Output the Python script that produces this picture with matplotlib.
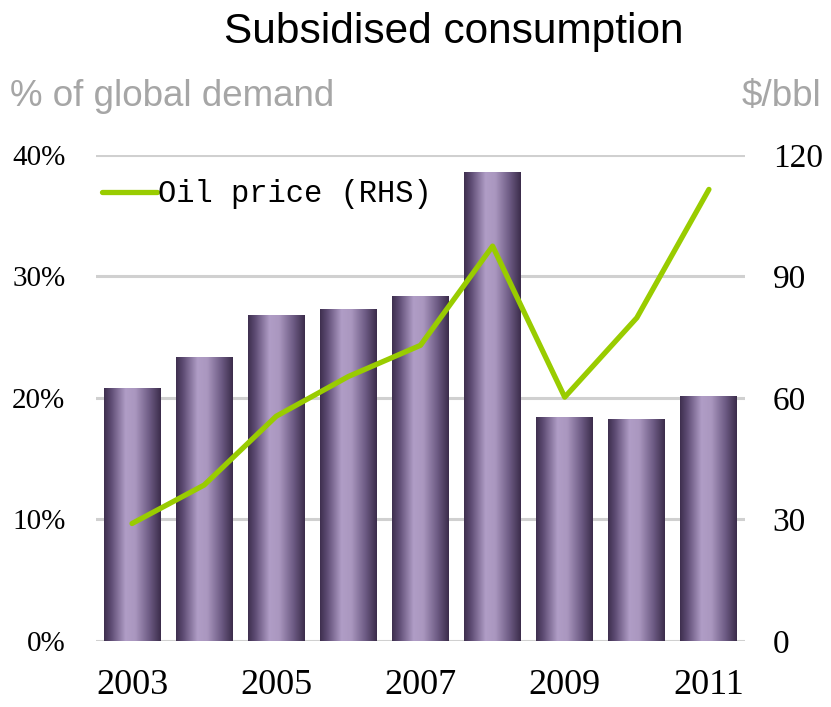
import numpy as np
import matplotlib
matplotlib.use('Agg')
import matplotlib.pyplot as plt
from matplotlib.colors import LinearSegmentedColormap

years = ['2003', '2004', '2005', '2006', '2007', '2008', '2009', '2010', '2011']
subsidised = [20.8, 23.4, 26.8, 27.3, 28.4, 38.6, 18.4, 18.3, 20.2]   # % of global demand
oil_price = [29.0, 38.5, 55.5, 65.3, 73.0, 97.5, 60.2, 79.8, 111.5]  # $/bbl

left_ticks = [0, 10, 20, 30, 40]
right_ticks = [0, 30, 60, 90, 120]

bar_cmap = LinearSegmentedColormap.from_list('purp', [
    (0.0, '#3e2f4e'), (0.12, '#5c4a72'), (0.38, '#b09dc6'),
    (0.55, '#aa97bf'), (0.8, '#6d5b84'), (1.0, '#3b2c4a')])

fig = plt.figure(figsize=(8.31, 7.07), dpi=100)
ax = fig.add_axes([0.1155, 0.0934, 0.781, 0.6874])
ax2 = ax.twinx()

x = np.arange(len(years))
bars = ax.bar(x, subsidised, width=0.79, color='none', edgecolor='none', zorder=2)
grad = np.linspace(0, 1, 256).reshape(1, -1)
for b in bars:
    im = ax.imshow(grad, extent=[b.get_x(), b.get_x() + b.get_width(), 0, b.get_height()],
                   aspect='auto', cmap=bar_cmap, zorder=2, interpolation='bilinear')
    im.set_clip_path(b)

ax.set_xlim(-0.5, len(years) - 0.5)
ax.set_ylim(0, 40)
ax.set_yticks(left_ticks)
ax.set_yticklabels([str(t) + '%' for t in left_ticks], fontsize=21, family='Liberation Serif')
ax.set_xticks(x[::2])
ax.set_xticklabels(years[::2], fontsize=26, family='Liberation Serif')
ax.tick_params(length=0)
ax.tick_params(axis='y', pad=22)
ax.tick_params(axis='x', pad=20)
ax.grid(axis='y', color='#d0d0d0', lw=2.2)
ax.set_axisbelow(True)

line, = ax2.plot(x, oil_price, color='#99cc00', lw=3.8, solid_capstyle='round',
                 label='Oil price (RHS)', zorder=3)
ax2.set_ylim(0, 120)
ax2.set_yticks(right_ticks)
ax2.set_yticklabels([str(t) for t in right_ticks], fontsize=24, family='Liberation Serif')
ax2.tick_params(length=0, pad=20)

for a in (ax, ax2):
    for s in a.spines.values():
        s.set_visible(False)

leg = ax2.legend(loc='upper left', bbox_to_anchor=(-0.01, 0.975), frameon=False,
                 handlelength=1.8, handletextpad=0.05, borderaxespad=0,
                 prop={'family': 'Liberation Mono', 'size': 22})

fig.text(0.546, 0.955, 'Subsidised consumption', ha='center', va='center',
         fontsize=30.5, family='Liberation Sans')
fig.text(0.012, 0.864, '% of global demand', ha='left', va='center',
         fontsize=26.5, color='#a6a6a6', family='Liberation Sans')
fig.text(0.988, 0.864, '$/bbl', ha='right', va='center',
         fontsize=26.5, color='#a6a6a6', family='Liberation Sans')

plt.savefig('out.png', dpi=100)
